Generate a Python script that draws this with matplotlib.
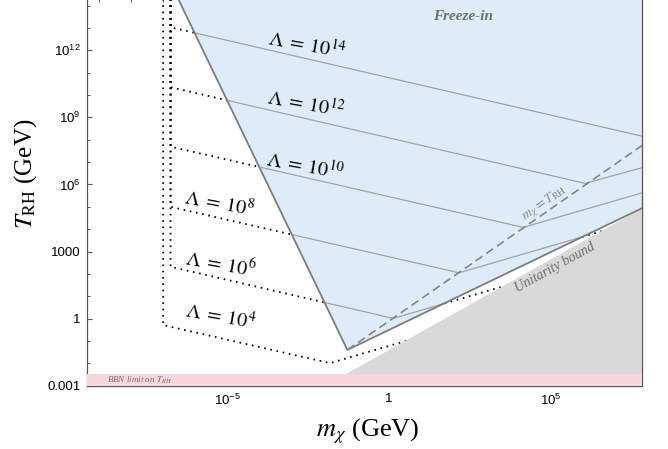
import numpy as np
import matplotlib
matplotlib.use('Agg')
import matplotlib.pyplot as plt
from matplotlib.patches import Polygon
from matplotlib.ticker import FixedLocator, FixedFormatter, NullFormatter

plt.rcParams['font.family'] = ['Liberation Sans', 'DejaVu Sans']
plt.rcParams['mathtext.fontset'] = 'custom'
plt.rcParams['mathtext.rm'] = 'Liberation Sans'
plt.rcParams['mathtext.it'] = 'Liberation Sans:italic'

# --- data (log10 of m_chi and T_RH, GeV) ---
lam_names = ['10^{4}', '10^{6}', '10^{8}', '10^{10}', '10^{12}', '10^{14}']
lam_logm = [
    [-7.00, -7.00, -1.83, 7.9],
    [-6.77, -6.77, 0.13, 7.9],
    [-6.77, -6.77, 2.17, 7.9],
    [-6.77, -6.77, 4.16, 7.9],
    [-6.77, -6.77, 6.07, 7.9],
    [-6.77, -6.77, 7.9],
]
lam_logT = [
    [14.5, -0.29, -1.99, 2.10],
    [14.5, 2.32, 0.01, 3.27],
    [14.5, 5.00, 2.05, 4.46],
    [14.5, 7.69, 4.08, 5.65],
    [14.5, 10.35, 6.05, 6.77],
    [14.5, 13.03, 8.14],
]

# freeze-in region boundary (left edge, corner, lower edge)
fi_logm = [-6.6, -1.29, 7.9]
fi_logT = [14.5, -1.40, 4.98]

# unitarity bound edge
un_logm = [-1.98, 7.9]
un_logT = [-3.0, 4.98]

# m_chi = T_RH line
mt_logm = [-1.29, 7.9]
mt_logT = [-1.40, 7.8]

bbn_T = 3.3e-3

x_major = [-5, 0, 5]
x_labels = [r'$10^{-5}$', '1', r'$10^{5}$']
y_major = [-3, 0, 3, 6, 9, 12]
y_labels = ['0.001', '1', '1000', r'$10^{6}$', r'$10^{9}$', r'$10^{12}$']

# label positions (log10 data coords)
lam_pos = [(-5.21, 0.12), (-5.21, 2.44), (-5.24, 5.17),
           (-2.60, 6.83), (-2.57, 9.64), (-2.54, 12.24)]


def lin(a):
    return 10.0 ** np.asarray(a, dtype=float)


fig = plt.figure(figsize=(6.68, 4.49), dpi=100)
ax = fig.add_axes([0.1307, 0.141, 0.8299, 0.8615])
ax.set_xscale('log')
ax.set_yscale('log')
ax.set_xlim(10 ** -9.35, 10 ** 7.83)
ax.set_ylim(1e-3, 10 ** 14.3)

# dotted curves (drawn first, hidden by the shaded regions)
for m, T in zip(lam_logm, lam_logT):
    ax.plot(lin(m), lin(T), color='k', lw=1.3, linestyle=(0, (0.9, 2.6)), zorder=1)

# freeze-in region
blue = Polygon(np.column_stack([lin(fi_logm + [7.9]), lin(fi_logT + [14.5])]),
               closed=True, facecolor='#deebf9', edgecolor='none', zorder=2)
ax.add_patch(blue)

# unitarity region
gray = Polygon(np.column_stack([lin(un_logm + [7.9]), lin(un_logT + [-3.0])]),
               closed=True, facecolor='#d9d9d9', edgecolor='none', zorder=3)
ax.add_patch(gray)

# solid parts inside the freeze-in region
for m, T in zip(lam_logm, lam_logT):
    ln, = ax.plot(lin(m), lin(T), color='#a3a3a3', lw=0.9, zorder=4)
    ln.set_clip_path(blue)

ax.axhspan(1e-3, bbn_T, color='#f8d7da', lw=0, zorder=5)
ax.plot(lin(fi_logm), lin(fi_logT), color='#7c7c7c', lw=1.3, zorder=6)
ax.plot(lin(mt_logm), lin(mt_logT), color='#858585', lw=1.2,
        linestyle=(0, (5, 2.8)), zorder=6)

# labels
for name, (lx, ly) in zip(lam_names, lam_pos):
    ax.text(10 ** lx, 10 ** ly, r'$\mathit{\Lambda}\;=\;\mathit{%s}$' % name,
            fontsize=14.5, rotation=-10, ha='center', va='center',
            rotation_mode='anchor', math_fontfamily='stix', zorder=7)

ax.text(10 ** 2.29, 10 ** 13.53, 'Freeze-in', fontsize=11, family='Liberation Serif',
        style='italic', weight='bold', color='#707070', ha='center', va='center', zorder=7)
ax.text(10 ** 5.14, 10 ** 2.26, 'Unitarity bound', fontsize=10, family='Liberation Serif',
        style='italic', color='#6e6e6e', rotation=29, ha='center', va='center',
        rotation_mode='anchor', zorder=7)
ax.text(10 ** 4.83, 10 ** 5.17, r'$m_\chi = T_{\mathrm{RH}}$', fontsize=10,
        math_fontfamily='stix', color='#8c8c8c', rotation=34.7, ha='center',
        va='center', rotation_mode='anchor', zorder=7)
ax.text(10 ** -8.74, 10 ** -2.77, r'BBN limit on $\mathit{T_{RH}}$', fontsize=6.5,
        family='Liberation Serif', style='italic', math_fontfamily='stix',
        color='#7a6a6a', ha='left', va='center', zorder=7)

# axes styling
for s in ax.spines.values():
    s.set_color('#555555')
    s.set_linewidth(0.9)
ax.xaxis.set_major_locator(FixedLocator(lin(x_major)))
ax.xaxis.set_major_formatter(FixedFormatter(x_labels))
ax.xaxis.set_minor_locator(FixedLocator(lin(np.arange(-9, 8))))
ax.xaxis.set_minor_formatter(NullFormatter())
ax.yaxis.set_major_locator(FixedLocator(lin(y_major)))
ax.yaxis.set_major_formatter(FixedFormatter(y_labels))
ax.yaxis.set_minor_locator(FixedLocator(lin(np.arange(-3, 15))))
ax.yaxis.set_minor_formatter(NullFormatter())
ax.tick_params(which='both', direction='in', top=True, right=True,
               color='#555555', labelsize=9.5)
ax.tick_params(which='major', length=3.5, width=0.8, pad=5)
ax.tick_params(which='minor', length=2.2, width=0.7)

ax.set_xlabel(r'$m_\chi$ (GeV)', fontsize=19, family='Liberation Serif',
              math_fontfamily='stix', va='center')
ax.xaxis.set_label_coords(0.506, -0.117)
ax.set_ylabel(r'$T_{\mathrm{RH}}$ (GeV)', fontsize=18, family='Liberation Serif',
              math_fontfamily='stix', va='center')
ax.yaxis.set_label_coords(-0.1106, 0.547)

fig.savefig('out.png', dpi=100)
